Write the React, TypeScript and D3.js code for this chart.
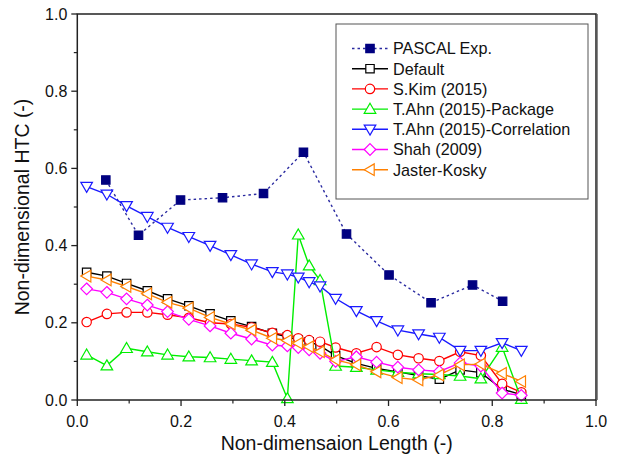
import React from "react";
import * as d3 from "d3";

const xs = [0.018, 0.057, 0.095, 0.135, 0.174, 0.215, 0.256, 0.296, 0.336, 0.376, 0.405, 0.426, 0.447, 0.468, 0.498, 0.538, 0.577, 0.618, 0.658, 0.698, 0.738, 0.778, 0.819, 0.856];

const pascalX = [0.055, 0.118, 0.199, 0.280, 0.359, 0.436, 0.519, 0.601, 0.682, 0.762, 0.820];
const pascalY = [0.570, 0.427, 0.518, 0.524, 0.535, 0.642, 0.430, 0.324, 0.252, 0.298, 0.256];

const defaultY = [0.331, 0.321, 0.302, 0.283, 0.262, 0.244, 0.223, 0.205, 0.190, 0.173, 0.164, 0.155, 0.151, 0.140, 0.115, 0.095, 0.082, 0.073, 0.063, 0.054, 0.078, 0.071, 0.028, 0.014];
const skimY = [0.202, 0.223, 0.227, 0.227, 0.221, 0.213, 0.200, 0.197, 0.188, 0.174, 0.168, 0.160, 0.155, 0.151, 0.136, 0.121, 0.137, 0.117, 0.108, 0.101, 0.125, 0.115, 0.042, 0.020];
const packageY = [0.117, 0.089, 0.134, 0.125, 0.117, 0.112, 0.110, 0.106, 0.102, 0.098, 0.004, 0.428, 0.348, 0.310, 0.088, 0.085, 0.078, 0.072, 0.068, 0.066, 0.062, 0.055, 0.137, 0.002];
const correlationY = [0.553, 0.533, 0.503, 0.475, 0.447, 0.423, 0.400, 0.376, 0.352, 0.332, 0.326, 0.318, 0.306, 0.295, 0.263, 0.231, 0.205, 0.181, 0.171, 0.162, 0.128, 0.128, 0.148, 0.128];
const shahY = [0.288, 0.279, 0.262, 0.246, 0.229, 0.209, 0.192, 0.173, 0.158, 0.142, 0.140, 0.136, 0.130, 0.121, 0.100, 0.112, 0.098, 0.085, 0.078, 0.074, 0.096, 0.088, 0.018, 0.012];
const jasterY = [0.321, 0.311, 0.294, 0.275, 0.253, 0.238, 0.214, 0.197, 0.181, 0.160, 0.154, 0.147, 0.138, 0.125, 0.104, 0.091, 0.073, 0.058, 0.052, 0.065, 0.091, 0.093, 0.069, 0.048];

const xTicks = [0, 0.2, 0.4, 0.6, 0.8, 1.0];
const yTicks = [0, 0.2, 0.4, 0.6, 0.8, 1.0];
const minorTicks = [0.1, 0.3, 0.5, 0.7, 0.9];

type Marker = "square" | "circle" | "up" | "down" | "diamond" | "left";

const seriesList = [
  { name: "PASCAL Exp.", x: pascalX, y: pascalY, color: "#000080", lineColor: "#2a2aa0", marker: "square" as Marker, filled: true, dash: "2.5,3" },
  { name: "Default", x: xs, y: defaultY, color: "#000000", lineColor: "#000000", marker: "square" as Marker, filled: false, dash: "" },
  { name: "S.Kim (2015)", x: xs, y: skimY, color: "#ff0000", lineColor: "#ff0000", marker: "circle" as Marker, filled: false, dash: "" },
  { name: "T.Ahn (2015)-Package", x: xs, y: packageY, color: "#00ee00", lineColor: "#00ee00", marker: "up" as Marker, filled: false, dash: "" },
  { name: "T.Ahn (2015)-Correlation", x: xs, y: correlationY, color: "#1a1aff", lineColor: "#1a1aff", marker: "down" as Marker, filled: false, dash: "" },
  { name: "Shah (2009)", x: xs, y: shahY, color: "#ff00ff", lineColor: "#ff00ff", marker: "diamond" as Marker, filled: false, dash: "" },
  { name: "Jaster-Kosky", x: xs, y: jasterY, color: "#ff8000", lineColor: "#ff8000", marker: "left" as Marker, filled: false, dash: "" },
];

function markerPath(m: Marker, cx: number, cy: number): string {
  const p = d3.path();
  if (m === "square") {
    const s = 4.2;
    p.rect(cx - s, cy - s, 2 * s, 2 * s);
  } else if (m === "circle") {
    p.moveTo(cx + 4.7, cy);
    p.arc(cx, cy, 4.7, 0, Math.PI * 2);
    p.closePath();
  } else if (m === "up") {
    p.moveTo(cx, cy - 5.8);
    p.lineTo(cx + 5.8, cy + 4.2);
    p.lineTo(cx - 5.8, cy + 4.2);
    p.closePath();
  } else if (m === "down") {
    p.moveTo(cx, cy + 5.8);
    p.lineTo(cx + 5.8, cy - 4.2);
    p.lineTo(cx - 5.8, cy - 4.2);
    p.closePath();
  } else if (m === "diamond") {
    p.moveTo(cx, cy - 5.8);
    p.lineTo(cx + 5.8, cy);
    p.lineTo(cx, cy + 5.8);
    p.lineTo(cx - 5.8, cy);
    p.closePath();
  } else {
    p.moveTo(cx - 5.8, cy);
    p.lineTo(cx + 4.2, cy - 5.8);
    p.lineTo(cx + 4.2, cy + 5.8);
    p.closePath();
  }
  return p.toString();
}

export default function App() {
  const W = 618, H = 463;
  const x = d3.scaleLinear().domain([0, 1]).range([77.3, 596]);
  const y = d3.scaleLinear().domain([0, 1]).range([400, 14]);
  const font = "'Liberation Sans', Arial, sans-serif";

  const line = d3.line<[number, number]>().x((d) => x(d[0])).y((d) => y(d[1]));

  const legendX = 336, legendY = 24, legendW = 252, legendH = 175;
  const rowY0 = 48.5, rowStep = 20.2;

  return (
    <svg width={W} height={H} style={{ position: "absolute", left: 0, top: 0, background: "#fff" }} fontFamily={font}>
      <rect x={0} y={0} width={W} height={H} fill="#fff" />
      {seriesList.map((s, i) => {
        const pts: [number, number][] = s.x.map((v, j) => [v, s.y[j]]);
        return (
          <g key={i}>
            <path d={line(pts) || ""} fill="none" stroke={s.lineColor} strokeWidth={1.4} strokeDasharray={s.dash || undefined} />
            {pts.map((d, j) => (
              <path key={j} d={markerPath(s.marker, x(d[0]), y(d[1]))} fill={s.filled ? s.color : "#fff"} stroke={s.color} strokeWidth={1.2} />
            ))}
          </g>
        );
      })}
      <rect x={x(0)} y={y(1)} width={x(1) - x(0)} height={y(0) - y(1)} fill="none" stroke="#222" strokeWidth={1.5} />
      <line x1={x(1) + 1.2} x2={x(1) + 1.2} y1={y(1)} y2={y(0)} stroke="#555" strokeWidth={1} />
      {xTicks.map((t) => (
        <g key={"x" + t}>
          <line x1={x(t)} x2={x(t)} y1={y(0)} y2={y(0) + 6} stroke="#222" strokeWidth={1.3} />
          <text x={x(t)} y={y(0) + 27} fontSize={16} textAnchor="middle" fill="#111">{t.toFixed(1)}</text>
        </g>
      ))}
      {minorTicks.map((t) => (
        <line key={"xm" + t} x1={x(t)} x2={x(t)} y1={y(0)} y2={y(0) + 3.5} stroke="#222" strokeWidth={1.2} />
      ))}
      {yTicks.map((t) => (
        <g key={"y" + t}>
          <line x1={x(0) - 6} x2={x(0)} y1={y(t)} y2={y(t)} stroke="#222" strokeWidth={1.3} />
          <text x={x(0) - 10} y={y(t) + 5.5} fontSize={16} textAnchor="end" fill="#111">{t.toFixed(1)}</text>
        </g>
      ))}
      {minorTicks.map((t) => (
        <line key={"ym" + t} x1={x(0) - 3.5} x2={x(0)} y1={y(t)} y2={y(t)} stroke="#222" strokeWidth={1.2} />
      ))}
      <text x={(x(0) + x(1)) / 2} y={450} fontSize={19.5} textAnchor="middle" fill="#111">Non-dimensaion Length (-)</text>
      <text transform={`translate(29,${(y(0) + y(1)) / 2}) rotate(-90)`} fontSize={19.5} textAnchor="middle" fill="#111">Non-dimensional HTC (-)</text>
      <rect x={legendX} y={legendY} width={legendW} height={legendH} fill="#fff" stroke="#555" strokeWidth={1} />
      {seriesList.map((s, i) => {
        const ry = rowY0 + i * rowStep;
        return (
          <g key={"lg" + i}>
            <line x1={352} x2={388} y1={ry} y2={ry} stroke={s.lineColor} strokeWidth={1.4} strokeDasharray={s.dash || undefined} />
            <path d={markerPath(s.marker, 370, ry)} fill={s.filled ? s.color : "#fff"} stroke={s.color} strokeWidth={1.2} />
            <text x={393} y={ry + 5.8} fontSize={16.2} fill="#111">{s.name}</text>
          </g>
        );
      })}
    </svg>
  );
}
